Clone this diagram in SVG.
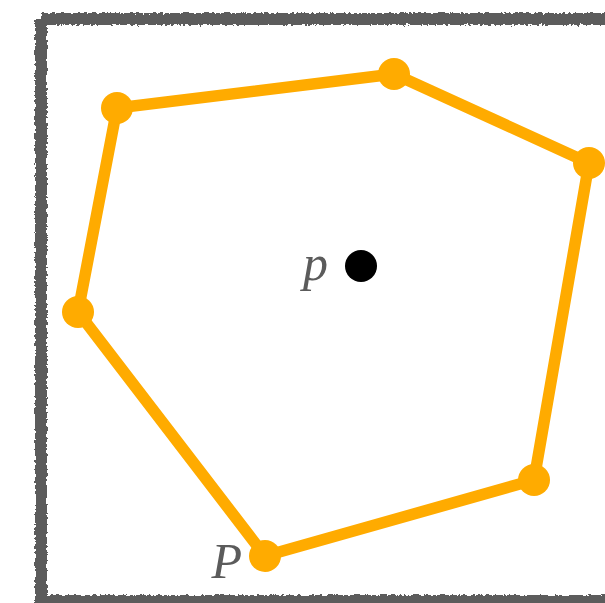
<svg xmlns="http://www.w3.org/2000/svg" width="605" height="603" viewBox="0 0 605 603">
  <defs>
    <filter id="rough" x="-5%" y="-5%" width="110%" height="110%">
      <feTurbulence type="fractalNoise" baseFrequency="0.35" numOctaves="2" seed="3" result="n"/>
      <feDisplacementMap in="SourceGraphic" in2="n" scale="5" xChannelSelector="R" yChannelSelector="G"/>
    </filter>
  </defs>
  <style>
    .frame { fill: none; stroke: #5b5b5b; stroke-width: 12; }
    .edge { fill: none; stroke: #ffab00; stroke-width: 11.5; stroke-linecap: round; stroke-linejoin: round; }
    .vtx { fill: #ffab00; }
    .lbl { font-family: "Liberation Serif", "DejaVu Serif", serif; font-style: italic; font-size: 50px; fill: #5b5b5b; }
  </style>
  <rect width="605" height="603" fill="#ffffff"/>
  <g id="frame">
    <path class="frame" filter="url(#rough)" d="M41,19 L620,19 M41,19 L41,601 L620,601"/>
  </g>
  <g id="connectors">
    <path class="edge" d="M117,108 L394,74 L589,163 L534,480 L265,556 L78,312 Z"/>
  </g>
  <g id="v1"><circle class="vtx" cx="117" cy="108" r="16"/></g>
  <g id="v2"><circle class="vtx" cx="394" cy="74" r="16"/></g>
  <g id="v3"><circle class="vtx" cx="589" cy="163" r="16"/></g>
  <g id="v4"><circle class="vtx" cx="534" cy="480" r="16"/></g>
  <g id="v5"><circle class="vtx" cx="265" cy="556" r="16"/></g>
  <g id="v6"><circle class="vtx" cx="78" cy="312" r="16"/></g>
  <g id="point-p">
    <circle cx="361" cy="266" r="16" fill="#000000"/>
    <text class="lbl" x="328" y="280" text-anchor="end">p</text>
  </g>
  <g id="label-P">
    <text class="lbl" x="242" y="578" text-anchor="end">P</text>
  </g>
</svg>
